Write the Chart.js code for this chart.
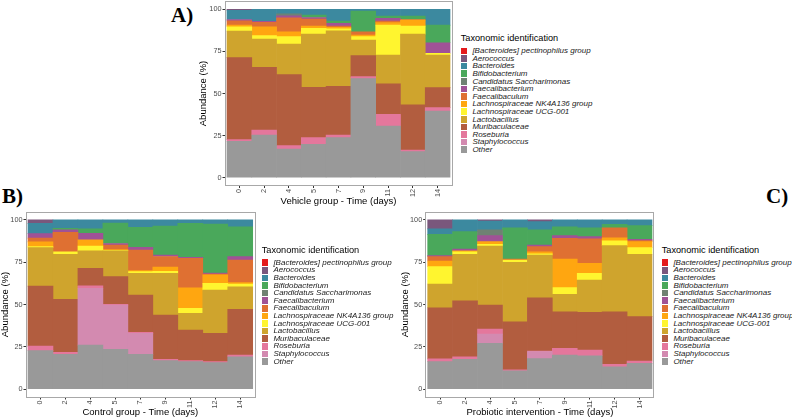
<!DOCTYPE html>
<html>
<head>
<meta charset="utf-8">
<script src="https://cdn.jsdelivr.net/npm/chart.js@4.4.1/dist/chart.umd.min.js"></script>
<style>
  body { margin: 0; background: #fff; width: 792px; height: 419px; position: relative; overflow: hidden;
         font-family: "Liberation Sans", Arial, sans-serif; }
  canvas { position: absolute; }
  .tag { position: absolute; font: bold 21px/21px "Liberation Serif", "Times New Roman", serif; color: #000; }
  .legend { position: absolute; color: #000; }
  .legend .ttl { font-size: 9.2px; line-height: 11px; white-space: nowrap; margin-bottom: 3.4px; }
  .legend .row { height: 7.6px; font-size: 8px; line-height: 7.6px; font-style: italic; white-space: nowrap;
                 display: flex; align-items: center; color: #1a1a1a; }
  .legend .sw { width: 6px; height: 6.6px; margin-right: 5.7px; flex: none; }
</style>
</head>
<body>
<div class="tag" style="left:171px;top:5px">A)</div>
<div class="tag" style="left:2px;top:186px">B)</div>
<div class="tag" style="left:766px;top:186px">C)</div>

<canvas id="chartA" width="264" height="210" style="left:194px;top:0px"></canvas>
<canvas id="chartB" width="262" height="214" style="left:0px;top:205px"></canvas>
<canvas id="chartC" width="264" height="214" style="left:395px;top:205px"></canvas>

<div class="legend" id="legA" style="left:460.7px;top:32.8px"></div>
<div class="legend" id="legB" style="left:261.7px;top:244.5px"></div>
<div class="legend" id="legC" style="left:661.7px;top:244.5px"></div>

<script>
const days = ['0', '2', '4', '5', '7', '9', '11', '12', '14'];
const yTicks = [0, 25, 50, 75, 100];

// legend order, top of the stack first
const taxa = [
  '[Bacteroides] pectinophilus group',
  'Aerococcus',
  'Bacteroides',
  'Bifidobacterium',
  'Candidatus Saccharimonas',
  'Faecalibacterium',
  'Faecalibaculum',
  'Lachnospiraceae NK4A136 group',
  'Lachnospiraceae UCG-001',
  'Lactobacillus',
  'Muribaculaceae',
  'Roseburia',
  'Staphylococcus',
  'Other'
];
const colors = ['#E41A1C', '#7A577C', '#3C899F', '#4AA85B', '#6F8273', '#A05296', '#DF7032',
                '#FFA610', '#FFF52F', '#CFA42D', '#B25D3F', '#E4779C', '#D38AB0', '#999999'];

// rows follow the taxa order, one value per day (%)
const vehicle = [
  [0, 0, 0, 0, 0, 0, 0, 0, 0],
  [0.5, 0, 0, 0, 0, 0, 0, 0, 0],
  [5.5, 7.1, 2.6, 3.4, 6.9, 1.0, 4.0, 4.0, 9.3],
  [0, 0, 0, 1.4, 1.4, 12.3, 1.3, 2.0, 10.5],
  [0, 0, 1.2, 0, 0, 0, 0, 0, 0],
  [0.8, 0.6, 1.2, 0.9, 1.6, 0, 1.6, 0, 6.3],
  [2.5, 2.6, 8.3, 4.2, 0.8, 1.9, 1.0, 0.3, 0],
  [1.0, 5.3, 2.9, 1.4, 0.8, 1.0, 1.4, 3.6, 0],
  [2.6, 2.0, 4.4, 3.4, 1.2, 2.0, 17.8, 4.8, 1.0],
  [15.8, 16.9, 18.2, 31.6, 33.0, 9.3, 17.1, 42.1, 19.4],
  [48.7, 37.2, 42.2, 29.9, 29.0, 12.5, 18.2, 26.8, 11.9],
  [1.0, 3.0, 2.0, 4.0, 1.5, 1.2, 6.9, 1.0, 2.0],
  [0, 0, 0, 0, 0, 0, 0, 0, 0],
  [21.6, 25.3, 17.0, 19.8, 23.8, 58.8, 30.7, 15.4, 39.6]
];

const control = [
  [0, 0, 0, 0, 0, 0, 0, 0, 0],
  [2.0, 0, 0, 0, 0, 0, 0, 0, 0],
  [6.1, 4.9, 5.3, 1.9, 4.3, 3.6, 2.0, 2.5, 4.0],
  [0, 1.0, 2.6, 12.0, 11.9, 17.2, 20.1, 28.9, 17.7],
  [0, 0, 0, 0, 0, 0, 0, 0, 0],
  [2.6, 1.4, 3.9, 1.0, 1.6, 0.8, 0.6, 0.6, 2.0],
  [2.3, 11.5, 0, 2.6, 12.2, 6.2, 17.4, 0.5, 13.4],
  [2.8, 0, 3.6, 0.5, 0.6, 2.6, 12.1, 5.0, 0.8],
  [0.6, 1.5, 2.9, 0.3, 1.0, 1.2, 3.0, 3.9, 1.6],
  [22.7, 26.6, 10.3, 15.2, 12.8, 24.6, 9.9, 25.7, 13.3],
  [35.5, 31.4, 10.3, 16.4, 22.1, 26.2, 18.1, 16.7, 27.1],
  [2.7, 1.2, 1.5, 0.5, 0.6, 0.8, 0.6, 0.6, 1.0],
  [0, 0, 33.6, 26.1, 12.4, 0, 0, 0, 0],
  [22.7, 20.5, 26.0, 23.5, 20.5, 16.8, 16.2, 15.6, 19.1]
];

const probiotic = [
  [0, 0, 0, 0, 0, 0, 0, 0, 0],
  [5.3, 0, 0.6, 0, 1.0, 0, 0, 0, 0],
  [3.2, 6.9, 5.3, 4.6, 4.9, 4.0, 4.6, 2.6, 3.4],
  [12.6, 10.3, 0, 18.5, 8.9, 5.3, 5.3, 2.0, 8.0],
  [0, 0, 3.4, 0, 0, 0, 0, 0, 0],
  [0.6, 1.0, 3.5, 0, 1.0, 1.5, 1.3, 0, 0.8],
  [2.6, 0, 0, 0.6, 3.0, 12.3, 14.4, 5.9, 0.6],
  [3.3, 0.6, 1.6, 0, 1.3, 16.9, 5.9, 1.9, 3.6],
  [10.3, 1.5, 1.0, 1.3, 0.6, 4.0, 4.0, 2.8, 3.9],
  [14.0, 27.6, 34.9, 35.2, 25.3, 10.3, 19.1, 39.1, 36.9],
  [30.3, 33.0, 14.2, 28.4, 31.5, 21.6, 22.3, 31.1, 26.2],
  [1.6, 1.5, 3.0, 0.6, 0.3, 4.0, 3.4, 1.4, 1.4],
  [0, 0, 5.5, 0, 4.2, 0, 0, 0, 0],
  [16.2, 17.6, 27.0, 10.8, 18.0, 20.1, 19.7, 13.2, 15.2]
];

Chart.defaults.font.family = '"Liberation Sans", Arial, sans-serif';

// grey box round the panel, like the ggplot panel border
const panelBox = {
  id: 'panelBox',
  afterDraw(chart) {
    const a = chart.chartArea;
    const ctx = chart.ctx;
    ctx.save();
    ctx.strokeStyle = '#a8a8a8';
    ctx.lineWidth = 1;
    ctx.strokeRect(Math.round(a.left) + 0.5, Math.round(a.top) + 0.5,
                   Math.round(a.width) - 1, Math.round(a.height) - 1);
    ctx.restore();
  }
};

function drawPanel(id, rows, xTitle, lay) {
  // Other first so it sits at the bottom of each stack
  const datasets = taxa.map((name, k) => ({
    label: name,
    data: rows[k].map((v, i) => ({ x: i + 1, y: v })).filter(p => p.y > 0),
    backgroundColor: colors[k],
    borderWidth: 0
  })).reverse();

  return new Chart(document.getElementById(id), {
    type: 'bar',
    data: { datasets },
    options: {
      responsive: false,
      animation: false,
      events: [],
      barPercentage: 1,
      categoryPercentage: 1,
      layout: { autoPadding: false, padding: { left: 0, top: lay.top, right: lay.right, bottom: 0 } },
      plugins: { legend: { display: false }, tooltip: { enabled: false } },
      scales: {
        x: {
          type: 'linear',
          stacked: true,
          offset: false,
          min: 0.4,
          max: 9.6,
          grid: { display: true, offset: false, drawOnChartArea: false, tickLength: 2, color: '#333' },
          border: { display: false },
          afterBuildTicks: s => { s.ticks = days.map((d, i) => ({ value: i + 1 })); },
          afterFit: s => { s.height = lay.xh; s.paddingLeft = 0; s.paddingRight = 0; },
          ticks: {
            autoSkip: false, minRotation: 90, maxRotation: 90, padding: 1,
            color: '#4d4d4d', font: { size: 7.3 },
            callback: v => days[v - 1]
          },
          title: { display: true, text: xTitle, color: '#000', font: { size: 9.5 },
                   padding: { top: 0, bottom: lay.xpb } }
        },
        y: {
          stacked: true,
          min: -5,
          max: 105,
          grid: { display: true, drawOnChartArea: false, tickLength: 2, color: '#333' },
          border: { display: false },
          afterBuildTicks: s => { s.ticks = yTicks.map(v => ({ value: v })); },
          afterFit: s => { s.width = lay.yw; s.paddingTop = 0; s.paddingBottom = 0; },
          ticks: { padding: 1, color: '#4d4d4d', font: { size: 7.3 } },
          title: { display: true, text: 'Abundance (%)', color: '#000', font: { size: 9.5 },
                   padding: { top: lay.ypt, bottom: 0 } }
        }
      }
    },
    plugins: [panelBox]
  });
}

function drawLegend(id) {
  const box = document.getElementById(id);
  let html = '<div class="ttl">Taxonomic identification</div>';
  taxa.forEach((name, k) => {
    html += '<div class="row"><span class="sw" style="background:' + colors[k] + '"></span>' + name + '</div>';
  });
  box.innerHTML = html;
}

drawPanel('chartA', vehicle, 'Vehicle group - Time (days)',
  { top: 1, right: 5.5, xh: 24, yw: 30.5, xpb: 2.6, ypt: 3.3 });
drawPanel('chartB', control, 'Control group - Time (days)',
  { top: 6.5, right: 6.8, xh: 21.5, yw: 25.5, xpb: 1.3, ypt: 0 });
drawPanel('chartC', probiotic, 'Probiotic intervention - Time (days)',
  { top: 6.5, right: 4.5, xh: 21.5, yw: 30.2, xpb: 1.3, ypt: 4.3 });

drawLegend('legA');
drawLegend('legB');
drawLegend('legC');
</script>
</body>
</html>
